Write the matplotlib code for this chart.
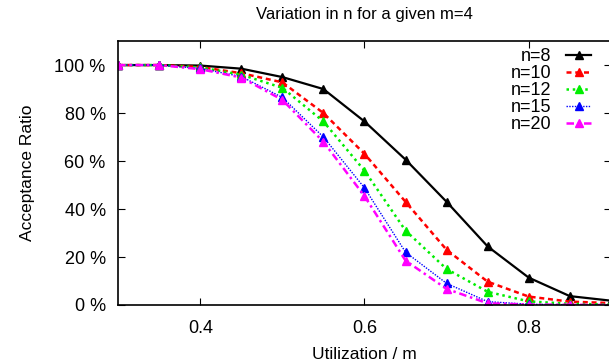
import matplotlib
matplotlib.use("Agg")
import matplotlib.pyplot as plt
from matplotlib.ticker import FuncFormatter

plt.rcParams["font.family"] = ["Liberation Sans", "DejaVu Sans"]

utilizacion = [0.30, 0.35, 0.40, 0.45, 0.50, 0.55, 0.60, 0.65, 0.70, 0.75, 0.80, 0.85, 0.90]

n8 = [100, 100, 99.8, 98.5, 95.0, 90.0, 76.5, 60.6, 43.0, 24.4, 11.4, 3.7, 1.8]
n10 = [100, 100, 99.2, 96.6, 92.8, 80.0, 63.0, 43.0, 23.0, 9.7, 3.5, 1.4, 0.8]
n12 = [100, 100, 99.0, 96.0, 90.5, 76.5, 56.0, 31.0, 15.0, 5.5, 1.5, 0.5, 0.2]
n15 = [100, 100, 98.6, 95.2, 86.5, 70.0, 48.8, 22.0, 9.0, 1.4, 0.3, 0.1, 0.0]
n20 = [100, 100, 98.3, 94.8, 85.5, 68.0, 45.4, 18.5, 6.7, 0.7, 0.2, 0.1, 0.0]

series = [
    ("n=8", n8, "black", "-", 1.6),
    ("n=10", n10, "red", (0, (2, 1.5)), 1.8),
    ("n=12", n12, "#00ee00", (0, (1, 1.5)), 1.8),
    ("n=15", n15, "blue", (0, (1, 1)), 1.0),
    ("n=20", n20, "magenta", (0, (3, 1.5, 1, 1.5)), 1.8),
]

fig = plt.figure(figsize=(6.09, 3.62), dpi=100)
ax = fig.add_axes([0.194, 0.1575, 0.809, 0.729])

for etiqueta, valores, color, estilo, grosor in series:
    ax.plot(utilizacion, valores, color=color, linestyle=estilo, linewidth=grosor,
            marker="^", markersize=6, label=etiqueta)

ax.set_xlim(0.3, 0.9)
ax.set_ylim(0, 110)
ax.set_xticks([0.4, 0.6, 0.8])
ax.set_yticks([0, 20, 40, 60, 80, 100])
ax.yaxis.set_major_formatter(FuncFormatter(lambda v, p: f"{v:g} %"))
ax.tick_params(direction="in", length=5, top=True, right=True, labelsize=13)
ax.tick_params(axis="x", pad=11)
ax.tick_params(axis="y", pad=9)
for s in ax.spines.values():
    s.set_linewidth(1.2)

ax.set_title("Variation in n for a given m=4", fontsize=12, pad=16)
ax.set_xlabel("Utilization / m", fontsize=12.5, labelpad=7)
ax.set_ylabel("Acceptance Ratio", fontsize=12.5, labelpad=14)

ax.legend(loc="upper right", frameon=False, markerfirst=False, fontsize=13,
          handlelength=1.4, handletextpad=0.8, labelspacing=0.0, borderaxespad=0.0,
          bbox_to_anchor=(0.975, 1.0))

fig.savefig("out.png", dpi=100)
